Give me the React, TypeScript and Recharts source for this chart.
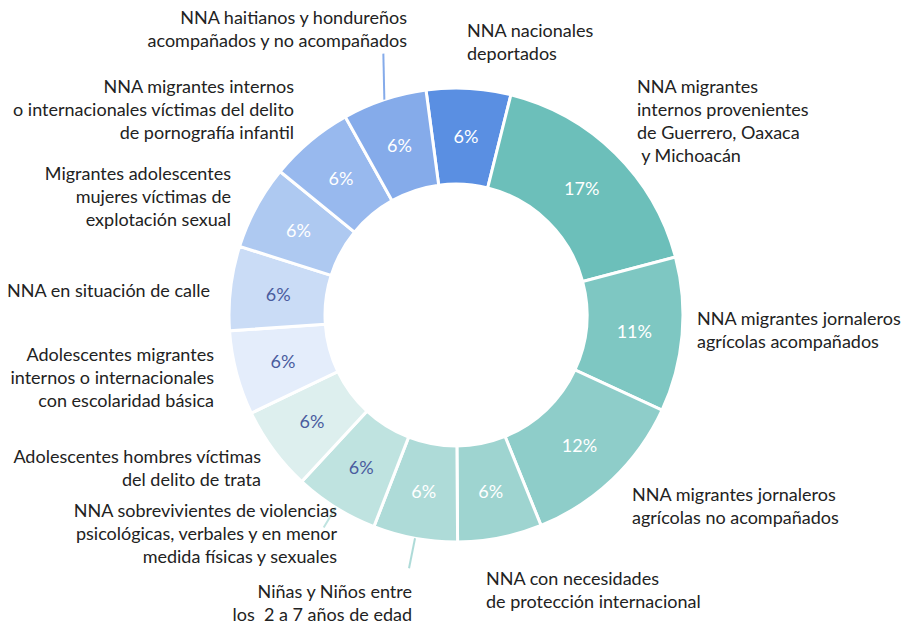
import { PieChart, Pie, Cell } from 'recharts';

const categories = [
  'NNA nacionales\ndeportados',
  'NNA migrantes\ninternos provenientes\nde Guerrero, Oaxaca\n y Michoacán',
  'NNA migrantes jornaleros\nagrícolas acompañados',
  'NNA migrantes jornaleros\nagrícolas no acompañados',
  'NNA con necesidades\nde protección internacional',
  'Niñas y Niños entre\nlos  2 a 7 años de edad',
  'NNA sobrevivientes de violencias\npsicológicas, verbales y en menor\nmedida físicas y sexuales',
  'Adolescentes hombres víctimas\ndel delito de trata',
  'Adolescentes migrantes\ninternos o internacionales\ncon escolaridad básica',
  'NNA en situación de calle',
  'Migrantes adolescentes\nmujeres víctimas de\nexplotación sexual',
  'NNA migrantes internos\no internacionales víctimas del delito\nde pornografía infantil',
  'NNA haitianos y hondureños\nacompañados y no acompañados',
];

const values = [6, 17, 11, 12, 6, 6, 6, 6, 6, 6, 6, 6, 6];

const colors = [
  '#5A8FE2', '#6CBFBA', '#7EC7C2', '#8ECDC9', '#9ED4D0', '#AEDBD8', '#BFE3E0',
  '#DDEFEE', '#E4EDFB', '#CADCF6', '#AEC9F1', '#98B9EE', '#85ABEA',
];

// percent text colour inside each slice
const pctColors = [
  '#fff', '#fff', '#fff', '#fff', '#fff', '#fff', '#4A5C9E',
  '#4A5C9E', '#4A5C9E', '#4A5C9E', '#fff', '#fff', '#fff',
];

// outer label placement relative to the pie centre: [dx, dy of first line, anchor]
const labelPos: [number, number, 'start' | 'end'][] = [
  [11, -285, 'start'],
  [181, -229, 'start'],
  [241, 3, 'start'],
  [176, 179, 'start'],
  [30, 263, 'start'],
  [-44, 276, 'end'],
  [-119, 195, 'end'],
  [-195, 141, 'end'],
  [-242, 39, 'end'],
  [-246, -25, 'end'],
  [-225, -142, 'end'],
  [-162, -229, 'end'],
  [-49, -298, 'end'],
];

// leader lines from slice edge: [dx, dy] or null
const leaders: ([number, number] | null)[] = [
  null, null, null, null, null, [-6, 30], [-12, 20], null, null, null, null, null, [-1, -46],
];

const data = categories.map((name, i) => ({ name, value: values[i] }));

const RADIAN = Math.PI / 180;
const FONT = 'Lato, "Open Sans", sans-serif';

function renderLabel(props: any) {
  const { cx, cy, midAngle, innerRadius, outerRadius, index } = props;
  const r = (innerRadius + outerRadius) / 2;
  const cos = Math.cos(-midAngle * RADIAN);
  const sin = Math.sin(-midAngle * RADIAN);
  const px = cx + r * cos;
  const py = cy + r * sin;
  const ex = cx + outerRadius * cos;
  const ey = cy + outerRadius * sin;
  const [dx, dy, anchor] = labelPos[index];
  const lines = categories[index].split('\n');
  const lead = leaders[index];
  return (
    <g key={`lbl-${index}`}>
      <text
        x={px}
        y={py}
        fill={pctColors[index]}
        textAnchor="middle"
        dominantBaseline="central"
        fontSize={18}
        fontFamily={FONT}
      >
        {`${values[index]}%`}
      </text>
      {lead && (
        <line x1={ex} y1={ey} x2={ex + lead[0]} y2={ey + lead[1]} stroke={colors[index]} strokeWidth={2} />
      )}
      <text
        x={cx + dx}
        y={cy + dy}
        textAnchor={anchor}
        fill="#222"
        fontSize={18}
        fontFamily={FONT}
        style={{ whiteSpace: 'pre' }}
      >
        {lines.map((ln, i) => (
          <tspan key={i} x={cx + dx} y={cy + dy + i * 23} dominantBaseline="central">
            {ln}
          </tspan>
        ))}
      </text>
    </g>
  );
}

export default function App() {
  return (
    <div style={{ position: 'absolute', left: 0, top: 0, width: 910, height: 626 }}>
      <PieChart width={910} height={626}>
        <Pie
          data={data}
          dataKey="value"
          nameKey="name"
          cx={451}
          cy={310}
          innerRadius={131}
          outerRadius={227}
          startAngle={97.6}
          endAngle={-262.4}
          stroke="#fff"
          strokeWidth={3}
          label={renderLabel}
          labelLine={false}
          isAnimationActive={false}
        >
          {data.map((_, i) => (
            <Cell key={i} fill={colors[i]} />
          ))}
        </Pie>
      </PieChart>
    </div>
  );
}
